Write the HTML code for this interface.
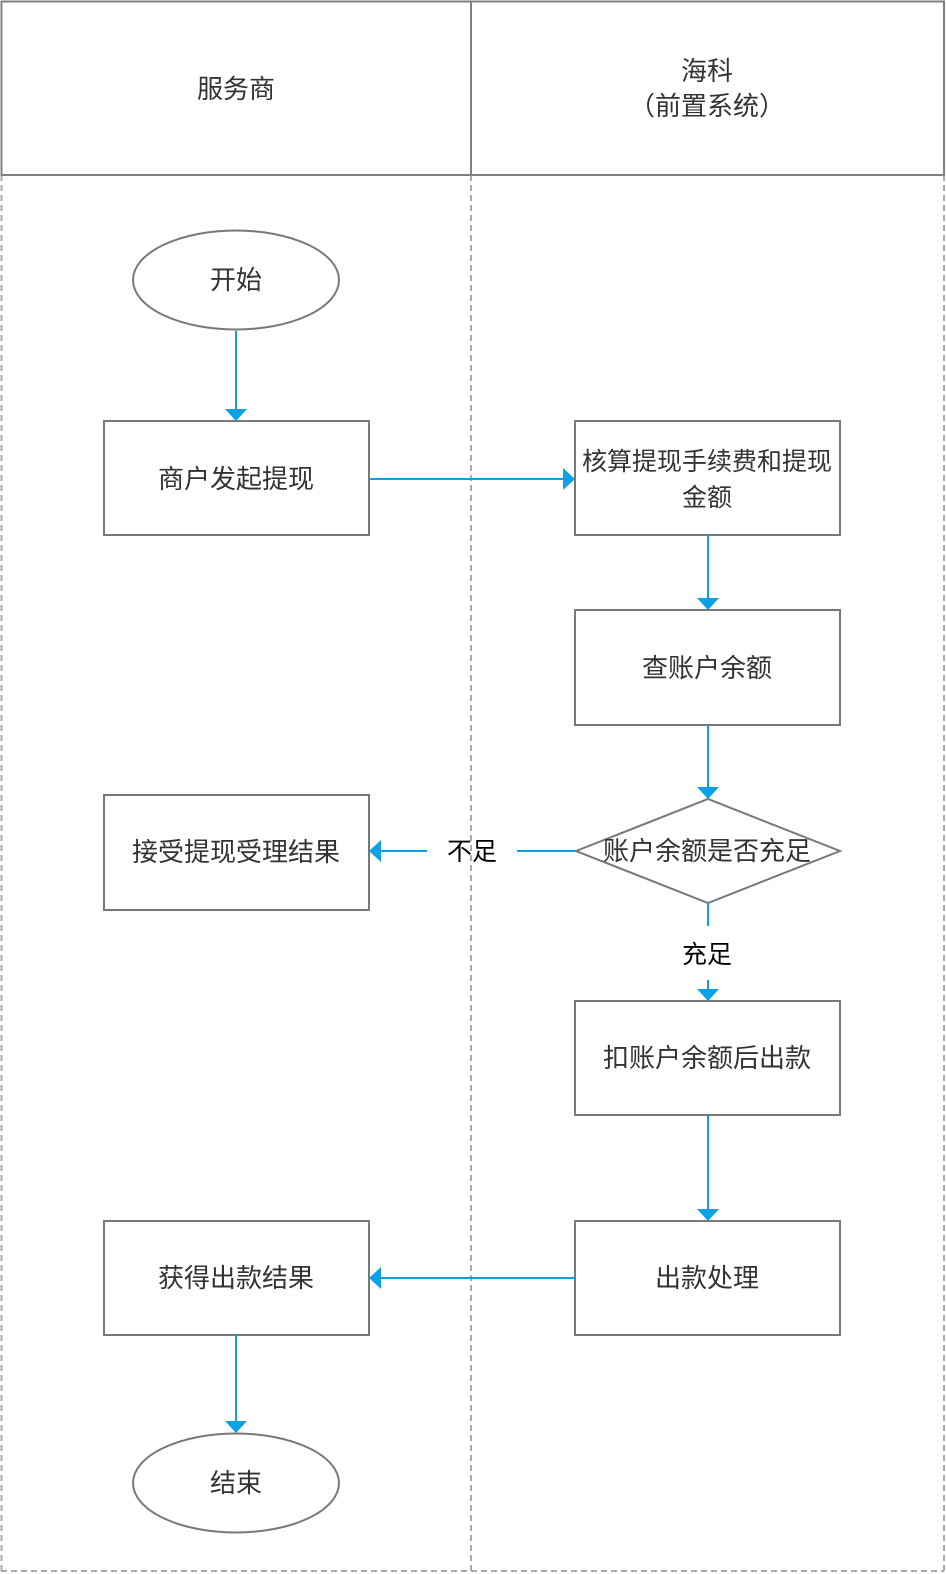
<!DOCTYPE html>
<html><head><meta charset="utf-8"><style>
html,body{margin:0;padding:0;background:#fff;}
svg{display:block}
text{font-family:"Liberation Sans","Noto Sans CJK SC",sans-serif;font-size:26px;fill:#333;text-anchor:middle;dominant-baseline:central}
</style></head><body>
<svg width="946" height="1574" viewBox="0 0 946 1574" xmlns="http://www.w3.org/2000/svg">
<defs>
<marker id="a" markerWidth="12" markerHeight="22" refX="11" refY="11" orient="auto" markerUnits="userSpaceOnUse">
<path d="M0,0 L12,11 L0,22 Z" fill="#0aa2e6"/>
</marker>
</defs>
<g stroke="#aaa" stroke-width="2" stroke-dasharray="6,4" fill="none">
<line x1="1.5" y1="175" x2="1.5" y2="1571"/>
<line x1="471" y1="175" x2="471" y2="1571"/>
<line x1="944" y1="175" x2="944" y2="1571"/>
<line x1="1" y1="1571" x2="944" y2="1571"/>
</g>
<g stroke="#808080" stroke-width="2" fill="none">
<rect x="1.5" y="1.5" width="942.5" height="173.5"/>
<line x1="471" y1="1" x2="471" y2="175"/>
</g>
<text x="236" y="89">服务商</text>
<text x="707" y="71">海科</text>
<text x="707" y="106">（前置系统）</text>

<g stroke="#787878" stroke-width="2" fill="#fff">
<ellipse cx="236" cy="280" rx="103" ry="49.5"/>
<rect x="104" y="421" width="265" height="114"/>
<rect x="575" y="421" width="265" height="114"/>
<rect x="575" y="610" width="265" height="115"/>
<polygon points="576,851 708,799 840,851 708,903"/>
<rect x="104" y="795" width="265" height="115"/>
<rect x="575" y="1001" width="265" height="114"/>
<rect x="575" y="1221" width="265" height="114"/>
<rect x="104" y="1221" width="265" height="114"/>
<ellipse cx="236" cy="1483" rx="103" ry="49.5"/>
</g>

<g stroke="#0aa2e6" stroke-width="2" fill="none">
<line x1="236" y1="331" x2="236" y2="420" marker-end="url(#a)"/>
<line x1="369" y1="479" x2="574" y2="479" marker-end="url(#a)"/>
<line x1="708" y1="535" x2="708" y2="609" marker-end="url(#a)"/>
<line x1="708" y1="725" x2="708" y2="798" marker-end="url(#a)"/>
<line x1="576" y1="851" x2="517" y2="851"/>
<line x1="427" y1="851" x2="370" y2="851" marker-end="url(#a)"/>
<line x1="708" y1="903" x2="708" y2="926"/>
<line x1="708" y1="980" x2="708" y2="1000" marker-end="url(#a)"/>
<line x1="708" y1="1115" x2="708" y2="1220" marker-end="url(#a)"/>
<line x1="575" y1="1278" x2="370" y2="1278" marker-end="url(#a)"/>
<line x1="236" y1="1335" x2="236" y2="1432" marker-end="url(#a)"/>
</g>

<text x="236" y="280">开始</text>
<text x="236" y="479">商户发起提现</text>
<text x="707" y="462" style="font-size:25px">核算提现手续费和提现</text>
<text x="707" y="498" style="font-size:25px">金额</text>
<text x="707" y="668">查账户余额</text>
<text x="707" y="851">账户余额是否充足</text>
<text x="236" y="852">接受提现受理结果</text>
<text x="472" y="852" style="fill:#000;font-size:25px">不足</text>
<text x="707" y="955" style="fill:#000;font-size:25px">充足</text>
<text x="707" y="1058">扣账户余额后出款</text>
<text x="707" y="1278">出款处理</text>
<text x="236" y="1278">获得出款结果</text>
<text x="236" y="1483">结束</text>
</svg>
</body></html>
